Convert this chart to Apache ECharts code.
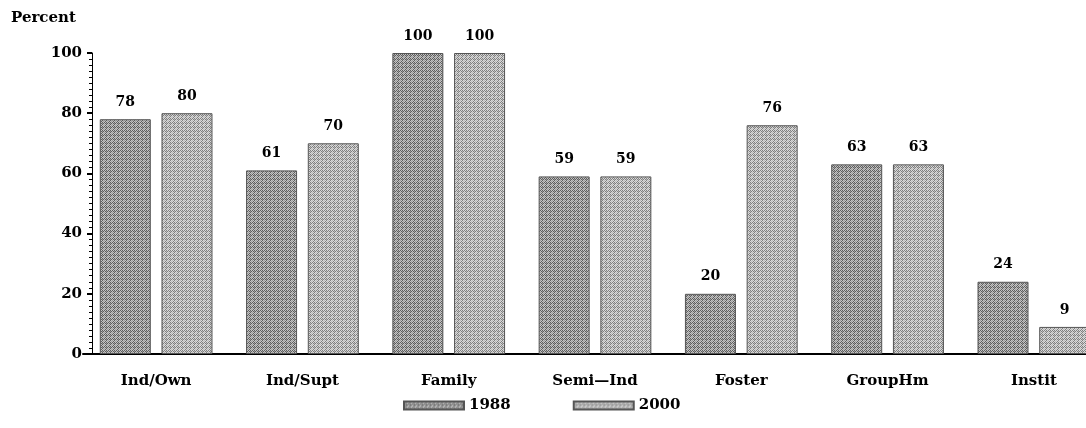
<!DOCTYPE html>
<html>
<head>
<meta charset="utf-8">
<script src="https://cdn.jsdelivr.net/npm/echarts@6/dist/echarts.min.js"></script>
<style>
html,body{margin:0;padding:0;background:#fff;overflow:hidden;width:1086px;height:428px;}
#chart{width:1108px;height:428px;}
</style>
</head>
<body>
<div id="chart"></div>
<script>
var categories = ['Ind/Own', 'Ind/Supt', 'Family', 'Semi\u2014Ind', 'Foster', 'GroupHm', 'Instit'];
var values1988 = [78, 61, 100, 59, 20, 63, 24];
var values2000 = [80, 70, 100, 59, 76, 63, 9];
var seriesNames = ['1988', '2000'];
var yTicks = [0, 20, 40, 60, 80, 100];

function makePattern(dark, light, extra) {
  var c = document.createElement('canvas');
  c.width = 4; c.height = 4;
  var ctx = c.getContext('2d');
  for (var y = 0; y < 4; y++) {
    for (var x = 0; x < 4; x++) {
      var v = (x + y) % 2 === 0 ? dark : light;
      if (extra && ((x * 3 + y * 5) % 7 === 0)) v = extra;
      ctx.fillStyle = v;
      ctx.fillRect(x, y, 1, 1);
    }
  }
  return c;
}
var pat1 = makePattern('#5e5e5e', '#c4c4c4', '#9a9a9a');
var pat2 = makePattern('#808080', '#dadada', '#b8b8b8');

var FONT = '"DejaVu Serif", serif';
var chart = echarts.init(document.getElementById('chart'), null, {renderer: 'canvas'});
var labelStyle = {show: true, position: 'top', distance: 10, color: '#000', fontFamily: FONT, fontWeight: 'bold', fontSize: 14};
chart.setOption({
  animation: false,
  backgroundColor: '#fff',
  title: {
    text: 'Percent', left: 6, top: 6,
    textStyle: {fontFamily: FONT, fontWeight: 'bold', fontSize: 15, color: '#000'}
  },
  legend: {
    data: seriesNames,
    top: 393, left: 398,
    icon: 'rect', itemWidth: 60, itemHeight: 8, itemGap: 62,
    textStyle: {fontFamily: FONT, fontWeight: 'bold', fontSize: 15, color: '#000'}
  },
  grid: {left: 83, top: 53, right: 1, height: 301, containLabel: false},
  xAxis: {
    type: 'category', data: categories,
    axisLine: {lineStyle: {color: '#000', width: 2}},
    axisTick: {show: false},
    axisLabel: {margin: 20, color: '#000', fontFamily: FONT, fontWeight: 'bold', fontSize: 15}
  },
  yAxis: {
    type: 'value', min: yTicks[0], max: yTicks[yTicks.length - 1], interval: 20,
    offset: -9,
    axisLine: {show: true, lineStyle: {color: '#000', width: 1}},
    axisTick: {show: true, length: 5, lineStyle: {color: '#000', width: 2}},
    minorTick: {show: true, splitNumber: 10, length: 3, lineStyle: {color: '#000'}},
    splitLine: {show: false},
    axisLabel: {margin: 10, color: '#000', fontFamily: FONT, fontWeight: 'bold', fontSize: 15}
  },
  series: [
    {
      name: seriesNames[0], type: 'bar', data: values1988, barWidth: 51, barGap: '21%',
      itemStyle: {color: {image: pat1, repeat: 'repeat'}, borderColor: '#555', borderWidth: 1},
      label: labelStyle
    },
    {
      name: seriesNames[1], type: 'bar', data: values2000, barWidth: 51, barGap: '21%',
      itemStyle: {color: {image: pat2, repeat: 'repeat'}, borderColor: '#555', borderWidth: 1},
      label: labelStyle
    }
  ]
});
</script>
</body>
</html>
